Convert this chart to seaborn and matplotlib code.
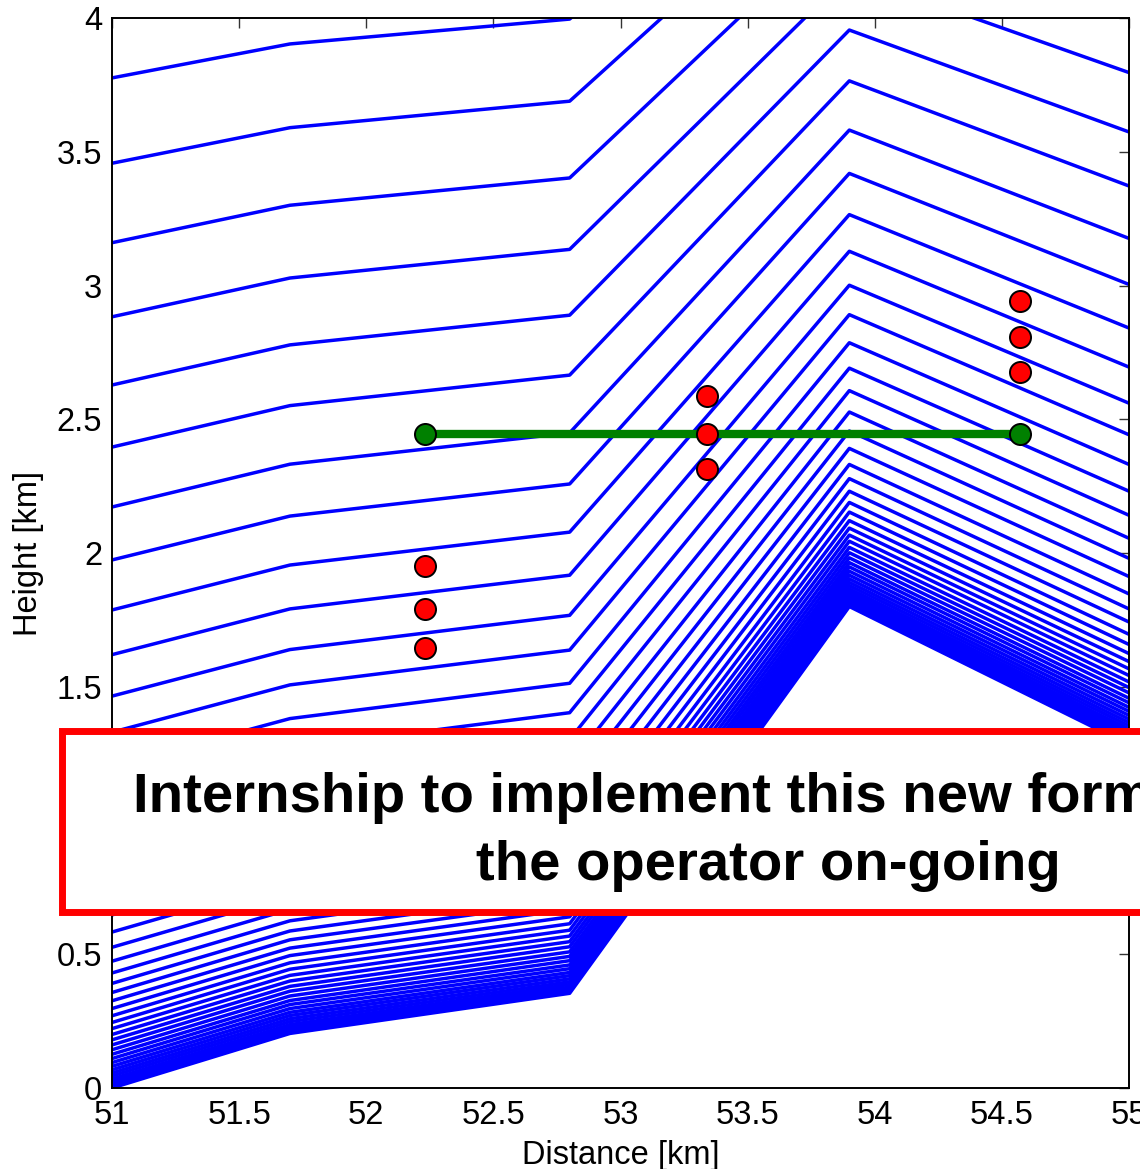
import numpy as np
import pandas as pd
import matplotlib
matplotlib.use("Agg")
import matplotlib.pyplot as plt
import seaborn as sns
from matplotlib.patches import Rectangle

# Horizontal positions of the terrain nodes [km]
distance_km = [51.0, 51.7, 52.8, 53.9, 55.0]

# Height of every model level (ground first) at each terrain node [km]
height_at_51_0 = [0.000, 0.007, 0.015, 0.024, 0.034, 0.045, 0.056, 0.068, 0.081, 0.095,
                  0.110, 0.126, 0.143, 0.161, 0.180, 0.200, 0.222, 0.245, 0.270, 0.297,
                  0.326, 0.357, 0.391, 0.430, 0.474, 0.526, 0.583, 0.647, 0.721, 0.800,
                  0.886, 0.984, 1.087, 1.202, 1.330, 1.465, 1.620, 1.787, 1.974, 2.172,
                  2.396, 2.628, 2.883, 3.160, 3.457, 3.776]
height_at_51_7 = [0.204, 0.211, 0.219, 0.228, 0.237, 0.248, 0.259, 0.271, 0.283, 0.297,
                  0.312, 0.327, 0.344, 0.362, 0.380, 0.400, 0.421, 0.444, 0.468, 0.495,
                  0.523, 0.554, 0.587, 0.625, 0.668, 0.719, 0.775, 0.838, 0.910, 0.988,
                  1.072, 1.168, 1.269, 1.381, 1.507, 1.639, 1.791, 1.955, 2.138, 2.332,
                  2.551, 2.778, 3.028, 3.300, 3.590, 3.903]
height_at_52_8 = [0.354, 0.361, 0.368, 0.377, 0.387, 0.397, 0.408, 0.420, 0.432, 0.446,
                  0.460, 0.476, 0.492, 0.509, 0.528, 0.547, 0.568, 0.590, 0.614, 0.640,
                  0.668, 0.698, 0.731, 0.769, 0.811, 0.861, 0.916, 0.978, 1.049, 1.126,
                  1.209, 1.303, 1.403, 1.513, 1.637, 1.767, 1.917, 2.078, 2.258, 2.449,
                  2.665, 2.889, 3.135, 3.402, 3.689, 3.996]
height_at_53_9 = [1.800, 1.806, 1.812, 1.820, 1.828, 1.837, 1.846, 1.856, 1.866, 1.878,
                  1.890, 1.903, 1.917, 1.932, 1.948, 1.964, 1.982, 2.001, 2.021, 2.044,
                  2.067, 2.093, 2.121, 2.153, 2.189, 2.231, 2.278, 2.331, 2.391, 2.456,
                  2.527, 2.607, 2.691, 2.786, 2.891, 3.001, 3.128, 3.265, 3.419, 3.581,
                  3.765, 3.955, 4.164, 4.391, 4.635, 4.896]
height_at_55_0 = [1.283, 1.289, 1.296, 1.304, 1.313, 1.322, 1.332, 1.342, 1.354, 1.366,
                  1.379, 1.393, 1.408, 1.423, 1.440, 1.457, 1.477, 1.497, 1.518, 1.542,
                  1.567, 1.594, 1.624, 1.658, 1.696, 1.742, 1.791, 1.847, 1.912, 1.980,
                  2.055, 2.141, 2.231, 2.331, 2.442, 2.560, 2.695, 2.841, 3.004, 3.176,
                  3.372, 3.574, 3.796, 4.038, 4.296, 4.575]

# Observation points and the horizontal interpolation path
obs_distance = [52.23, 52.23, 52.23, 53.34, 53.34, 53.34, 54.57, 54.57, 54.57]
obs_height = [1.951, 1.791, 1.645, 2.587, 2.445, 2.314, 2.943, 2.808, 2.678]
path_distance = [52.23, 54.57]
path_height = [2.445, 2.445]

x_ticks = [51, 51.5, 52, 52.5, 53, 53.5, 54, 54.5, 55]
y_ticks = [0, 0.5, 1, 1.5, 2, 2.5, 3, 3.5, 4]

# Long-form table: one row per (level, node)
grid = np.column_stack([height_at_51_0, height_at_51_7, height_at_52_8,
                        height_at_53_9, height_at_55_0])
n_levels = grid.shape[0]
levels_df = pd.DataFrame({
    "level": np.repeat(np.arange(n_levels), len(distance_km)),
    "distance": np.tile(distance_km, n_levels),
    "height": grid.ravel(),
})

sns.set_theme(style="white")
plt.rcParams["font.family"] = ["Liberation Sans", "DejaVu Sans"]
plt.rcParams["text.color"] = "black"
plt.rcParams["axes.labelcolor"] = "black"
plt.rcParams["xtick.color"] = "black"
plt.rcParams["ytick.color"] = "black"

W, H = 1140, 1169
fig = plt.figure(figsize=(W / 100, H / 100), dpi=100)
ax = fig.add_axes([112 / W, 81 / H, 1017 / W, 1070 / H])

sns.lineplot(data=levels_df, x="distance", y="height", units="level",
             estimator=None, sort=False, color="blue", linewidth=2.5,
             legend=False, ax=ax)
sns.lineplot(x=path_distance, y=path_height, color="#008000", linewidth=6,
             legend=False, ax=ax)
sns.scatterplot(x=path_distance, y=path_height, color="#008000", s=230,
                edgecolor="black", linewidth=1.4, zorder=4, ax=ax)
sns.scatterplot(x=obs_distance, y=obs_height, color="red", s=230,
                edgecolor="black", linewidth=1.4, zorder=5, ax=ax)

ax.set_xlim(51, 55)
ax.set_ylim(0, 4)
ax.set_xticks(x_ticks)
ax.set_yticks(y_ticks)
ax.set_xticklabels([f"{v:g}" for v in x_ticks])
ax.set_yticklabels([f"{v:g}" for v in y_ticks])
ax.tick_params(direction="in", length=7.5, width=1.0, color="#333333",
               labelcolor="black", top=True, right=True, labelsize=23.5,
               labelfontfamily=["Liberation Sans Narrow", "Liberation Sans"])
ax.tick_params(axis="x", pad=9)
ax.tick_params(axis="y", pad=7)
for sp in ax.spines.values():
    sp.set_color("black")
    sp.set_linewidth(1.4)

ax.set_xlabel("Distance [km]", fontsize=23.5, labelpad=6, color="black")
ax.set_ylabel("Height [km]", fontsize=23.5, labelpad=9, color="black")

# Announcement banner across the lower half
banner = Rectangle((61.7 / W, 1 - 912 / H), (1250 - 61.7) / W, (912 - 731) / H,
                   transform=fig.transFigure, facecolor="white", edgecolor="red",
                   linewidth=5, zorder=10)
fig.add_artist(banner)
fig.text(133 / W, 1 - 812 / H, "Internship to implement this new form",
         fontsize=40.5, fontweight="bold", color="black", va="baseline",
         ha="left", zorder=11)
fig.text(476 / W, 1 - 880 / H, "the operator on-going",
         fontsize=40.5, fontweight="bold", color="black", va="baseline",
         ha="left", zorder=11)

fig.savefig("out.png", dpi=100)
